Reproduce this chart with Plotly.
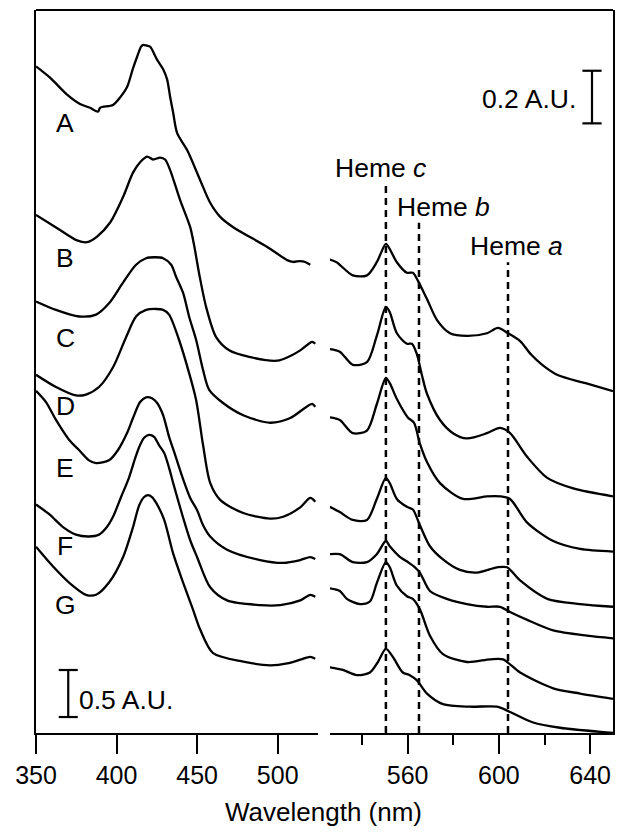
import plotly.graph_objects as go

# ---------------- data (wavelength nm, absorbance A.U. with stacking offsets) ----------------
labels = ["A", "B", "C", "D", "E", "F", "G"]

# Soret region (left panel, scale bar 0.5 A.U.)
A_L_nm = [350, 358.7, 369.3, 377.3, 383.5, 388.5, 389.8, 397.8, 402.2, 406.5, 410.2, 412.7, 415.2, 416.5, 418.9, 420.8, 425.2, 428.9, 431.4, 433.2, 435.1, 437.6, 443.8, 451.9, 458.1, 464.3, 472.4, 493.5, 505.9, 509.6, 514, 517.1, 520.2]
A_L_ab = [7.09, 6.97, 6.79, 6.69, 6.65, 6.61, 6.65, 6.68, 6.76, 6.87, 7.07, 7.19, 7.30, 7.32, 7.31, 7.30, 7.16, 7.06, 6.95, 6.77, 6.60, 6.38, 6.20, 5.88, 5.64, 5.49, 5.38, 5.17, 5.03, 5.01, 5.02, 5.01, 4.98]
B_L_nm = [350, 364.9, 375.5, 381.7, 387.9, 396, 404, 410.2, 414.6, 418.9, 422.7, 427, 430.1, 433.2, 439.4, 445.7, 448.1, 451.2, 455.6, 461.8, 469.9, 482.3, 499.7, 507.8, 514, 521.4, 523.3]
B_L_ab = [5.51, 5.35, 5.24, 5.22, 5.28, 5.43, 5.70, 5.96, 6.07, 6.13, 6.10, 6.12, 6.10, 5.99, 5.67, 5.38, 5.19, 4.89, 4.53, 4.21, 4.07, 4.00, 3.96, 4.01, 4.07, 4.16, 4.14]
C_L_nm = [350, 362.4, 376.7, 387.3, 395.3, 404, 412.1, 418.3, 423.9, 428.9, 433.9, 437, 441.3, 445, 449.4, 453.7, 457.5, 466.1, 478.6, 495.3, 507.8, 517.1, 521.4, 523.3]
C_L_ab = [4.59, 4.50, 4.43, 4.45, 4.57, 4.79, 4.98, 5.05, 5.06, 5.05, 4.98, 4.85, 4.68, 4.43, 4.18, 3.86, 3.65, 3.51, 3.38, 3.30, 3.35, 3.46, 3.50, 3.47]
D_L_nm = [350, 362.4, 374.8, 381, 389.1, 397.8, 405.9, 412.1, 418.3, 424.5, 428.9, 432.6, 438.8, 445, 449.4, 453.7, 458.1, 464.3, 478.6, 495.3, 503.4, 514, 520.2, 523.3]
D_L_ab = [3.81, 3.68, 3.59, 3.60, 3.68, 3.89, 4.21, 4.43, 4.50, 4.51, 4.50, 4.45, 4.18, 3.83, 3.54, 3.06, 2.66, 2.48, 2.34, 2.28, 2.30, 2.40, 2.50, 2.46]
E_L_nm = [350, 356.2, 362.4, 370.5, 376.7, 382.9, 387.3, 395.3, 400.9, 406.5, 410.2, 414.6, 418.3, 422, 425.2, 428.9, 432.6, 436.3, 441.3, 445.7, 450, 453.7, 458.1, 468.6, 489.1, 503.4, 514, 520.2, 523.3]
E_L_ab = [3.64, 3.52, 3.33, 3.12, 3.01, 2.90, 2.87, 2.90, 3.01, 3.19, 3.35, 3.52, 3.57, 3.56, 3.51, 3.38, 3.15, 2.96, 2.70, 2.50, 2.37, 2.21, 2.09, 1.95, 1.84, 1.81, 1.84, 1.87, 1.85]
F_L_nm = [350, 358.7, 366.8, 374.8, 382.9, 389.1, 393.5, 397.8, 402.8, 407.8, 411.5, 414, 417.1, 420.2, 423.3, 426.4, 429.5, 432.6, 435.1, 441.3, 445.7, 450, 458.1, 468.6, 489.1, 501.6, 514, 520.2, 523.3]
F_L_ab = [2.43, 2.32, 2.19, 2.11, 2.09, 2.11, 2.18, 2.30, 2.51, 2.72, 2.92, 3.04, 3.14, 3.17, 3.15, 3.06, 2.98, 2.82, 2.66, 2.29, 2.05, 1.87, 1.55, 1.41, 1.36, 1.36, 1.41, 1.47, 1.45]
G_L_nm = [350, 360.6, 370.5, 381, 387.3, 395.3, 404, 410.2, 414, 417.1, 419.6, 422, 424.5, 429.5, 435.1, 441.3, 447.5, 451.9, 459.9, 478.6, 495.3, 505.9, 514, 520.2, 523.3]
G_L_ab = [1.98, 1.77, 1.60, 1.47, 1.47, 1.60, 1.87, 2.19, 2.42, 2.51, 2.53, 2.51, 2.45, 2.27, 1.91, 1.60, 1.31, 1.10, 0.85, 0.76, 0.72, 0.74, 0.78, 0.81, 0.79]

# Q-band region (right panel, scale bar 0.2 A.U.)
A_R_nm = [525.9, 528.9, 536, 542.2, 546.5, 550.5, 552.2, 555.3, 559.7, 562.3, 564.5, 568.5, 572.9, 578.6, 586, 594.8, 599.6, 604, 609.3, 614, 619, 626, 638, 650]
A_R_ab = [1.80, 1.79, 1.74, 1.74, 1.79, 1.86, 1.84, 1.79, 1.75, 1.75, 1.72, 1.65, 1.57, 1.52, 1.51, 1.52, 1.54, 1.52, 1.49, 1.44, 1.40, 1.36, 1.33, 1.30]
B_R_nm = [525.9, 530.3, 536, 542.2, 546.5, 550.5, 552.2, 555.3, 559.7, 561.9, 564.1, 566.3, 568.5, 574.2, 579.9, 586, 594.8, 600.5, 604.9, 612.4, 621.2, 632.6, 650]
B_R_ab = [1.46, 1.45, 1.40, 1.41, 1.51, 1.62, 1.60, 1.52, 1.48, 1.48, 1.44, 1.36, 1.29, 1.19, 1.14, 1.12, 1.14, 1.16, 1.14, 1.05, 0.97, 0.93, 0.90]
C_R_nm = [525.9, 530.3, 536, 542.2, 546.5, 550.5, 552.2, 555.3, 560.1, 562.8, 565.4, 568.5, 574.2, 584.3, 594.8, 600.5, 604.9, 612.4, 623.8, 635.6, 650]
C_R_ab = [1.20, 1.19, 1.14, 1.15, 1.25, 1.35, 1.33, 1.27, 1.20, 1.18, 1.10, 1.03, 0.95, 0.89, 0.90, 0.90, 0.89, 0.80, 0.73, 0.70, 0.69]
D_R_nm = [525.9, 530.3, 536, 542.2, 546.5, 550.5, 552.2, 555.3, 559.7, 562.3, 565.4, 569.8, 575.5, 582.9, 590.4, 599.2, 603.6, 609.3, 621.2, 635.6, 650]
D_R_ab = [0.86, 0.84, 0.81, 0.81, 0.89, 0.97, 0.95, 0.89, 0.86, 0.85, 0.79, 0.71, 0.66, 0.62, 0.61, 0.63, 0.63, 0.58, 0.51, 0.49, 0.48]
E_R_nm = [525.9, 530.3, 536, 542.2, 546.5, 550.5, 552.2, 556.6, 560.1, 563.2, 565.4, 569.8, 577.2, 586, 594.8, 600.5, 604.9, 612.4, 623.8, 638.6, 650]
E_R_ab = [0.68, 0.68, 0.65, 0.65, 0.68, 0.73, 0.71, 0.67, 0.65, 0.63, 0.61, 0.54, 0.51, 0.49, 0.48, 0.48, 0.46, 0.43, 0.39, 0.37, 0.36]
F_R_nm = [525.9, 530.3, 533.4, 539.1, 543.5, 546.5, 550.5, 552.2, 555.3, 559.7, 562.3, 565.4, 569.8, 575.5, 586, 596.1, 601.8, 609.3, 623.8, 635.6, 650]
F_R_ab = [0.55, 0.54, 0.51, 0.49, 0.50, 0.57, 0.65, 0.63, 0.56, 0.52, 0.51, 0.47, 0.37, 0.30, 0.27, 0.28, 0.28, 0.23, 0.17, 0.15, 0.13]
G_R_nm = [525.9, 531.6, 537.8, 543.5, 547, 550.5, 553.5, 557.9, 561, 564.1, 568.5, 575.5, 587.3, 599.2, 604.9, 615, 626.8, 650]
G_R_ab = [0.25, 0.24, 0.22, 0.23, 0.27, 0.32, 0.29, 0.23, 0.22, 0.20, 0.15, 0.11, 0.10, 0.10, 0.08, 0.04, 0.02, 0.00]

left_nm = [A_L_nm, B_L_nm, C_L_nm, D_L_nm, E_L_nm, F_L_nm, G_L_nm]
left_ab = [A_L_ab, B_L_ab, C_L_ab, D_L_ab, E_L_ab, F_L_ab, G_L_ab]
right_nm = [A_R_nm, B_R_nm, C_R_nm, D_R_nm, E_R_nm, F_R_nm, G_R_nm]
right_ab = [A_R_ab, B_R_ab, C_R_ab, D_R_ab, E_R_ab, F_R_ab, G_R_ab]

left_ticks = [350, 400, 450, 500]
right_ticks = [560, 600, 640]
right_minor = [540, 580, 620]

heme_names = ["c", "b", "a"]
heme_nm = [550.5, 565, 604]

scale_left = 0.5
scale_right = 0.2

# ---------------- figure ----------------
FONT = "Liberation Sans, Arial, sans-serif"
TXT = 26.5
fig = go.Figure()
line = dict(color="black", width=2.3, shape="spline", smoothing=0.8)
for i, lab in enumerate(labels):
    fig.add_trace(go.Scatter(x=left_nm[i], y=left_ab[i], mode="lines", line=line,
                             xaxis="x", yaxis="y", showlegend=False, name=lab))
    fig.add_trace(go.Scatter(x=right_nm[i], y=right_ab[i], mode="lines", line=line,
                             xaxis="x2", yaxis="y2", showlegend=False, name=lab))

shapes = []
# top frame line
shapes.append(dict(type="line", xref="paper", yref="paper", x0=0, x1=1, y0=1, y1=1,
                   line=dict(color="black", width=2)))
# heme dashed lines
heme_tops = [2.09, 1.94, 1.79]
for nm, top in zip(heme_nm, heme_tops):
    shapes.append(dict(type="line", xref="x2", yref="y2", x0=nm, x1=nm, y0=0, y1=top,
                       line=dict(color="black", width=2.5, dash="7px,5px")))
# scale bars
def bar(xref, yref, xc, y0, length, half):
    return [
        dict(type="line", xref=xref, yref=yref, x0=xc, x1=xc, y0=y0, y1=y0 + length,
             line=dict(color="black", width=2.2)),
        dict(type="line", xref=xref, yref=yref, x0=xc - half, x1=xc + half, y0=y0, y1=y0,
             line=dict(color="black", width=2.2)),
        dict(type="line", xref=xref, yref=yref, x0=xc - half, x1=xc + half, y0=y0 + length,
             y1=y0 + length, line=dict(color="black", width=2.2)),
    ]
shapes += bar("x", "y", 370, 0.17, scale_left, 5.9)
shapes += bar("x2", "y2", 640.8, 2.318, scale_right, 4.2)

ann = []
label_y = [6.49, 5.05, 4.20, 3.48, 2.82, 1.99, 1.36]
for lab, yy in zip(labels, label_y):
    ann.append(dict(x=368.3, y=yy, xref="x", yref="y", text=lab, showarrow=False,
                    font=dict(size=TXT, color="black", family=FONT)))
heme_label_pos = [(527.4, 2.148), (554.6, 2.0), (586.6, 1.852)]
for name, (hx, hy) in zip(heme_names, heme_label_pos):
    ann.append(dict(x=hx, y=hy, xref="x2", yref="y2", text="Heme <i>%s</i>" % name,
                    showarrow=False, xanchor="left", yanchor="middle",
                    font=dict(size=TXT, color="black", family=FONT)))
ann.append(dict(x=634.6, y=2.41, xref="x2", yref="y2", text="%.1f A.U." % scale_right,
                showarrow=False, xanchor="right", yanchor="middle",
                font=dict(size=TXT, color="black", family=FONT)))
ann.append(dict(x=375.5, y=0.351, xref="x", yref="y", text="%.1f A.U." % scale_left,
                showarrow=False, xanchor="left", yanchor="middle",
                font=dict(size=TXT, color="black", family=FONT)))
ann.append(dict(x=0.499, y=-0.109, xref="paper", yref="paper", text="Wavelength (nm)",
                showarrow=False, xanchor="center", yanchor="middle",
                font=dict(size=26, color="black", family=FONT)))

axis_common = dict(showgrid=False, zeroline=False, showline=True, linecolor="black",
                   linewidth=2)
fig.update_layout(
    width=617, height=836,
    margin=dict(l=36, r=4, t=10, b=103),
    paper_bgcolor="white", plot_bgcolor="white",
    font=dict(family=FONT, size=25, color="black"),
    xaxis=dict(domain=[0, 0.4887], range=[350, 525], anchor="y",
               tickmode="array", tickvals=left_ticks, ticks="outside", ticklen=19,
               tickwidth=2, tickcolor="black", tickfont=dict(size=25), **axis_common),
    xaxis2=dict(domain=[0.5095, 1], range=[526, 650], anchor="y2",
                tickmode="array", tickvals=right_ticks, ticks="outside", ticklen=19,
                tickwidth=2, tickcolor="black", tickfont=dict(size=25),
                minor=dict(tickmode="array", tickvals=right_minor, ticks="outside",
                           ticklen=10, tickwidth=2, tickcolor="black"),
                **axis_common),
    yaxis=dict(domain=[0, 1], range=[0, 7.69], anchor="x", showticklabels=False,
               ticks="", **axis_common),
    yaxis2=dict(domain=[0, 1], range=[0, 2.749], anchor="x2", side="right",
                showticklabels=False, ticks="", **axis_common),
    shapes=shapes,
    annotations=ann,
)

fig.write_html("out.html")
